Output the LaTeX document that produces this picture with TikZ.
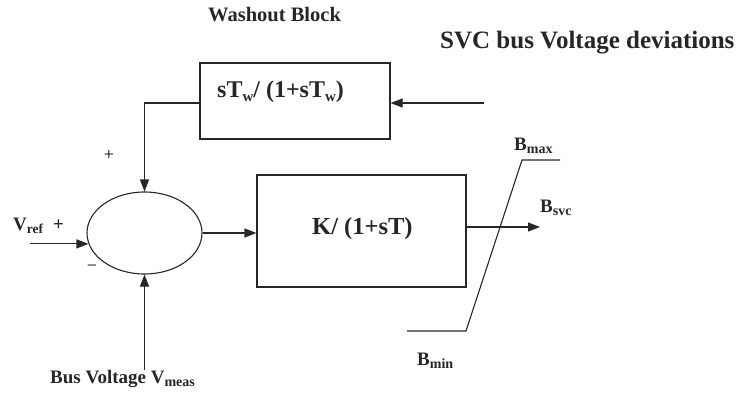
\documentclass[tikz,border=0pt]{standalone}
\usepackage{fontspec}
\setmainfont{Liberation Serif}
\usetikzlibrary{arrows.meta,shapes.geometric}
\newcommand\lsub[2]{\raisebox{-0.2em}{\fontsize{#1}{#1}\selectfont #2}}
\tikzset{
  x=1pt, y=-1pt,
  wire/.style={line width=1.1pt, draw=black!85},
  arr/.style={wire, -{Triangle[length=12pt,width=9pt]}},
  blk/.style={draw=black!85, line width=1.1pt, rectangle, inner sep=0pt},
  txt/.style={inner sep=0pt, anchor=base west, font=\bfseries, text=black!85},
}
\begin{document}
\begin{tikzpicture}
\useasboundingbox (0,0) rectangle (739,402);
% blocks
\node[blk, minimum width=190pt, minimum height=76pt] (wash) at (295,101) {};
\node[blk, minimum width=209pt, minimum height=112pt] (kbox) at (361.5,231) {};
\node[draw=black!85, line width=1.1pt, ellipse, inner sep=0pt, minimum width=115pt, minimum height=82pt] (sum) at (144.5,233) {};
% texts
\node[txt, font=\bfseries\fontsize{20.5}{22}\selectfont] (wtitle) at (208,21) {Washout Block};
\node[txt, font=\bfseries\fontsize{25}{27}\selectfont] (svc) at (440,48) {SVC bus Voltage deviations};
\node[txt, font=\bfseries\fontsize{24}{26}\selectfont] (wtf) at (217,97) {sT\lsub{15}{w}/ (1+sT\lsub{15}{w})};
\node[txt, font=\bfseries\fontsize{24.5}{26}\selectfont] (ktf) at (312,234) {K/ (1+sT)};
\node[txt, font=\bfseries\fontsize{19}{21}\selectfont] (vref) at (13,230) {V\lsub{13.5}{ref}\hspace{10pt}+};
\node[txt, font=\bfseries\fontsize{19}{21}\selectfont] (vmeas) at (50,383) {Bus Voltage V\lsub{14}{meas}};
\node[txt, font=\bfseries\fontsize{19}{21}\selectfont] (bmax) at (514,150) {B\lsub{14}{max}};
\node[txt, font=\bfseries\fontsize{19}{21}\selectfont] (bsvc) at (540,212) {B\lsub{14}{svc}};
\node[txt, font=\bfseries\fontsize{19}{21}\selectfont] (bmin) at (417,365) {B\lsub{14}{min}};
\node[inner sep=0pt, font=\fontsize{18}{20}\selectfont] (plus) at (109,155) {+};
\node[inner sep=0pt, font=\fontsize{18}{20}\selectfont] (minus) at (92,268) {\char"2212};
% coordinates
\coordinate (in) at (484,103);
\coordinate (vin) at (30,0);
\coordinate (vm) at (144.5,370);
\coordinate (bout) at (540,227);
\coordinate (l1) at (407,331);
\coordinate (l2) at (466,331);
\coordinate (l3) at (522,160);
\coordinate (l4) at (560,160);
% connectors
\draw[arr] (in) -- (in -| wash.east);
\draw[arr] (in -| wash.west) -| (sum.north);
\draw[arr] (sum.191 -| vin) -- (sum.191);
\draw[arr] (vm) -- (sum.south);
\draw[arr] (sum.east) -- (sum.east -| kbox.west);
\draw[arr] (bout -| kbox.east) -- (bout);
\draw[wire] (l1) -- (l2) -- (l3) -- (l4);
\end{tikzpicture}
\end{document}
